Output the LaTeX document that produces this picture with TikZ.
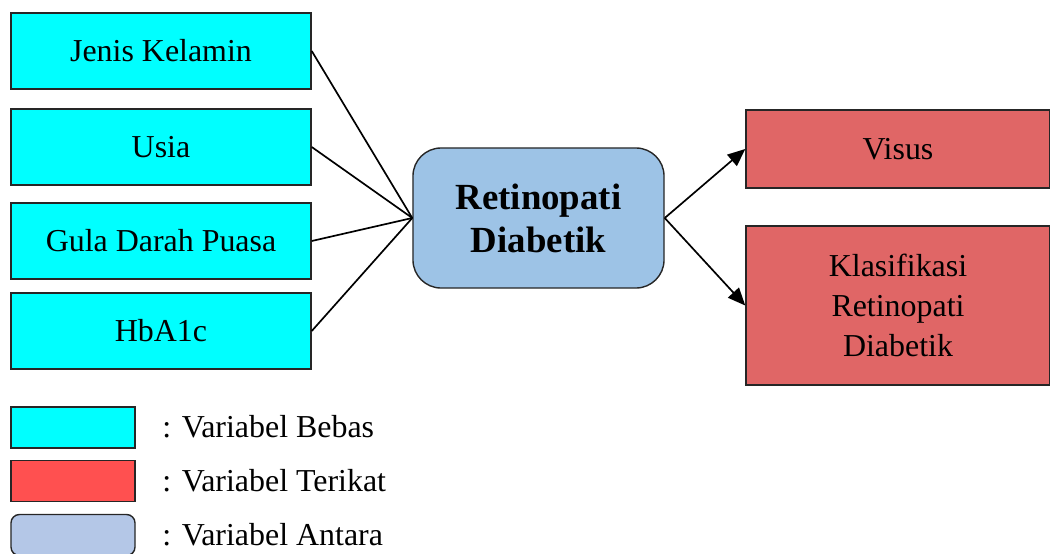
\documentclass[tikz,border=0pt]{standalone}
\usepackage{fontspec}
\setmainfont{Liberation Serif}
\usetikzlibrary{arrows.meta}
\definecolor{bebas}{HTML}{00FFFF}
\definecolor{terikat}{HTML}{E06666}
\definecolor{terikatkey}{HTML}{FF5050}
\definecolor{antara}{HTML}{9DC3E6}
\definecolor{antarakey}{HTML}{B4C7E7}

\begin{document}
\begin{tikzpicture}[
  x=0.025cm, y=-0.025cm,
  var/.style={draw=black!85, line width=1pt, minimum width=7.5cm, minimum height=1.9cm,
              fill=bebas, align=center, inner sep=0pt,
              font=\fontsize{22.7}{28.5}\selectfont},
  outvar/.style={var, fill=terikat, minimum width=7.6cm},
  key/.style={draw=black!85, line width=1pt, minimum width=3.1cm, minimum height=1.025cm, inner sep=0pt},
  keytext/.style={anchor=west, inner sep=0pt, font=\fontsize{22.7}{28.5}\selectfont},
  link/.style={line width=1.2pt, black},
  arr/.style={-{Triangle[length=12.5pt,width=10.5pt]}, line width=1.2pt, black}
]
  \useasboundingbox (0,0) rectangle (1050,553);

  \node[var] (kelamin) at (161,51) {Jenis Kelamin};
  \node[var] (usia) at (161,147) {Usia};
  \node[var] (gula) at (161,241) {Gula Darah Puasa};
  \node[var] (hba) at (161,331) {HbA1c};

  \node[var, fill=antara, rounded corners=20pt, minimum width=6.275cm, minimum height=3.5cm,
        font=\fontsize{26.2}{30.6}\selectfont\bfseries] (rd) at (538.5,218) {Retinopati\\Diabetik};

  \node[outvar, minimum height=1.95cm] (visus) at (898,149) {Visus};
  \node[outvar, minimum height=3.975cm] (klas) at (898,305.5) {Klasifikasi\\Retinopati\\Diabetik};

  \draw[link] (kelamin.east) -- (rd.west);
  \draw[link] (usia.east) -- (rd.west);
  \draw[link] (gula.east) -- (rd.west);
  \draw[link] (hba.east) -- (rd.west);
  \draw[arr] (rd.east) -- (visus.west);
  \draw[arr] (rd.east) -- (klas.west);

  % keterangan
  \node[key, fill=bebas] (kbebas) at (73,427.5) {};
  \node[key, fill=terikatkey] (kterikat) at (73,481) {};
  \node[key, fill=antarakey, rounded corners=6pt] (kantara) at (73,535) {};
  \node[keytext] (tbebas) at (162,427) {: Variabel Bebas};
  \node[keytext] (tterikat) at (162,481) {: Variabel Terikat};
  \node[keytext] (tantara) at (162,535) {: Variabel Antara};
\end{tikzpicture}
\end{document}
